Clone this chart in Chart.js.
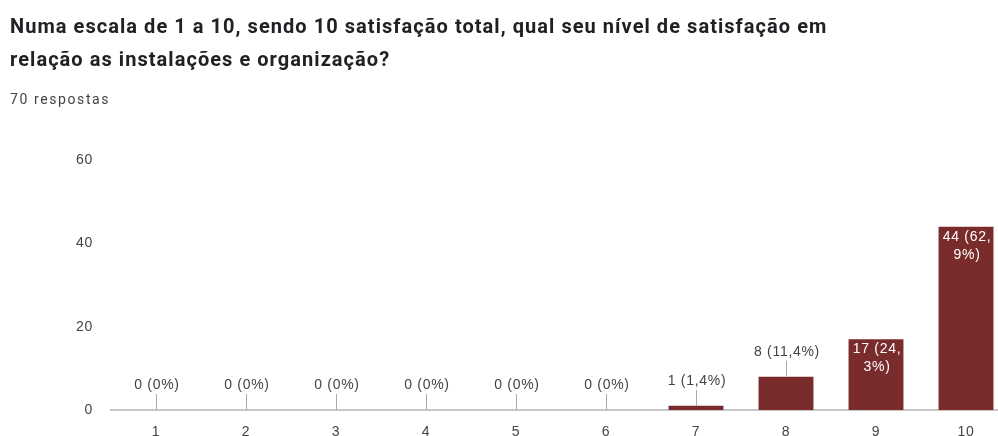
<!DOCTYPE html>
<html>
<head>
<meta charset="utf-8">
<script src="https://cdn.jsdelivr.net/npm/chart.js@4/dist/chart.umd.min.js"></script>
<style>
	html, body { margin: 0; padding: 0; background: #fff; overflow: hidden; width: 998px; height: 436px; }
	#title { position: absolute; left: 10px; top: 10px; font-family: Roboto, sans-serif; font-weight: bold; font-size: 20px; letter-spacing: 1.05px; line-height: 33px; color: #202124; }
	#sub { position: absolute; left: 10px; top: 91px; font-family: Roboto, sans-serif; font-size: 14px; letter-spacing: 1.6px; color: #444; }
	#wrap { position: absolute; left: 0; top: 0; width: 1012px; height: 436px; }
</style>
</head>
<body>
<div id="wrap"><canvas id="barChart"></canvas></div>
<div id="title">Numa escala de 1 a 10, sendo 10 satisfação total, qual seu nível de satisfação em<br>relação as instalações e organização?</div>
<div id="sub">70 respostas</div>
<script>
const categories = ['1', '2', '3', '4', '5', '6', '7', '8', '9', '10'];
const counts = [0, 0, 0, 0, 0, 0, 1, 8, 17, 44];
const yTicks = [0, 20, 40, 60];
const total = 70;

const barColor = '#7a2c2c';
const labelFont = '"Liberation Sans", Arial, sans-serif';
const spacing = '0.7px';

function pctLabel(v) {
	const p = Math.round(v / total * 1000) / 10;
	return v + ' (' + String(p).replace('.', ',') + '%)';
}

// wider text like the original
const spacingPlugin = {
	id: 'spacing',
	beforeDraw(chart) { chart.ctx.letterSpacing = spacing; },
	beforeLayout(chart) { chart.ctx.letterSpacing = spacing; }
};

const labelPlugin = {
	id: 'valueLabels',
	afterDatasetsDraw(chart) {
		const ctx = chart.ctx;
		const meta = chart.getDatasetMeta(0);
		ctx.save();
		ctx.font = '14px ' + labelFont;
		ctx.letterSpacing = spacing;
		ctx.textAlign = 'center';
		ctx.textBaseline = 'middle';
		meta.data.forEach((bar, i) => {
			const text = pctLabel(counts[i]);
			const h = bar.base - bar.y;
			if (h > 45) {
				// inside the bar, white, wrapped
				let lines = [text];
				if (ctx.measureText(text).width > bar.width - 4) {
					const k = text.indexOf(',') + 1;
					lines = [text.slice(0, k), text.slice(k)];
				}
				ctx.fillStyle = '#ffffff';
				lines.forEach((ln, j) => ctx.fillText(ln, bar.x + 1, bar.y + 10 + j * 18));
			} else {
				ctx.strokeStyle = '#aaaaaa';
				ctx.lineWidth = 1;
				ctx.beginPath();
				ctx.moveTo(bar.x + 0.5, bar.y);
				ctx.lineTo(bar.x + 0.5, bar.y - 16);
				ctx.stroke();
				ctx.fillStyle = '#444444';
				ctx.fillText(text, bar.x + 1, bar.y - 25);
			}
		});
		ctx.restore();
	}
};

const barCtx = document.getElementById('barChart').getContext('2d');
const barChart = new Chart(barCtx, {
	type: 'bar',
	data: {
		labels: categories,
		datasets: [{
			data: counts,
			backgroundColor: barColor,
			borderWidth: 0,
			categoryPercentage: 1,
			barPercentage: 0.61
		}]
	},
	options: {
		responsive: true,
		maintainAspectRatio: false,
		animation: false,
		layout: { padding: { top: 160, right: 1, left: 0, bottom: 0 } },
		plugins: {
			legend: { display: false },
			tooltip: { enabled: false }
		},
		scales: {
			x: {
				grid: { display: false },
				border: { color: '#c8c8c8', width: 2 },
				ticks: {
					color: '#444',
					padding: 6,
					font: { family: labelFont, size: 14 }
				},
				afterFit: s => { s.height = 26; }
			},
			y: {
				min: 0,
				max: 60,
				afterBuildTicks: s => { s.ticks = yTicks.map(v => ({ value: v })); },
				grid: { display: false },
				border: { display: false },
				ticks: {
					color: '#444',
					padding: 10,
					font: { family: labelFont, size: 14 }
				},
				afterFit: s => { s.width = 111; }
			}
		}
	},
	plugins: [spacingPlugin, labelPlugin]
});
</script>
</body>
</html>
